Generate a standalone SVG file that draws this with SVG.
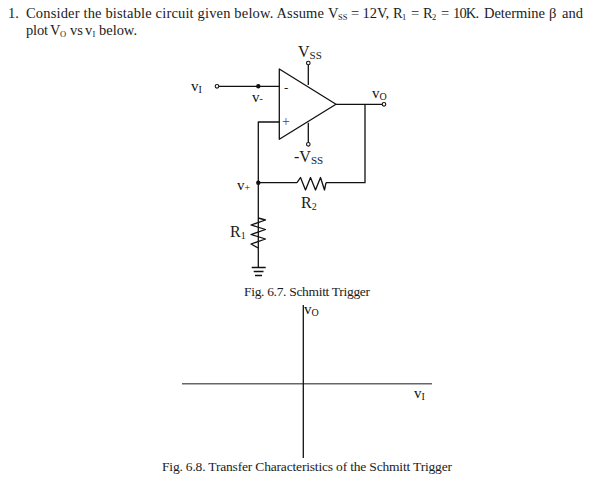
<svg xmlns="http://www.w3.org/2000/svg" width="602" height="480" viewBox="0 0 602 480">
<style>
text{font-family:"Liberation Serif",serif;fill:#1a1a1a}
.t{font-size:14.5px;fill:#1c1c1c}
.c{font-size:13.5px;fill:#1c1c1c}
.l{font-size:15px;fill:#111}
.s{font-size:10px}
.b{font-size:8.5px;fill:#1c1c1c}
.w{fill:none;stroke:#111;stroke-width:1.3;stroke-linejoin:round}
.o{fill:#fff;stroke:#111;stroke-width:1.1}
.d{fill:#111}
</style>
<rect width="602" height="480" fill="#fff"/>
<g id="question">
<text class="t" x="8" y="18">1.</text>
<text class="t" x="26" y="18" textLength="298">Consider the bistable circuit given below. Assume</text>
<text class="t" x="328" y="18">V</text><text class="b" x="338" y="20">SS</text>
<text class="t" x="351" y="18" textLength="38">= 12V,</text>
<text class="t" x="393" y="18">R</text><text class="b" x="402" y="20">1</text>
<text class="t" x="411" y="18">=</text>
<text class="t" x="423" y="18">R</text><text class="b" x="432" y="20">2</text>
<text class="t" x="441" y="18">=</text>
<text class="t" x="453" y="18" textLength="26">10K.</text>
<text class="t" x="484" y="18" textLength="61">Determine</text>
<text class="t" x="549" y="18">β</text>
<text class="t" x="562" y="18" textLength="21">and</text>
<text class="t" x="26" y="35" textLength="22">plot</text>
<text class="t" x="50" y="35">V</text><text class="b" x="60" y="37">O</text>
<text class="t" x="70" y="35">vs</text>
<text class="t" x="85" y="35">v</text><text class="b" x="92.500" y="37">I</text>
<text class="t" x="99" y="35" textLength="38">below.</text>
</g>
<g id="connectors">
<path class="w" d="M219 86.3H279.3"/>
<path class="w" d="M279.3 122H258.3V267"/>
<path class="w" d="M336 104.3H382"/>
<path class="w" d="M365 104.3V182.7H326"/>
<path class="w" d="M258.3 182.7H297"/>
<path class="w" d="M308.3 65V85"/>
<path class="w" d="M308.3 122.7V142"/>
</g>
<g id="opamp">
<path class="w" d="M279.3 69V139.3L336 104.3Z" fill="#fff"/>
<text x="284" y="92" font-size="13">-</text>
<text x="282" y="126" font-size="14" style="fill:#7a3a20">+</text>
</g>
<g id="terminal-vi"><circle class="o" cx="217" cy="86.3" r="1.8"/><text class="l" x="191" y="91">v<tspan class="s" dy="2">I</tspan></text></g>
<g id="node-vminus"><circle class="d" cx="258.3" cy="86.3" r="2.2"/><text class="l" x="252" y="102">v<tspan class="s" dy="0">-</tspan></text></g>
<g id="terminal-vss"><circle class="o" cx="308.3" cy="63" r="1.8"/><text x="298" y="57" font-size="16">V<tspan font-size="11" dy="2">SS</tspan></text></g>
<g id="terminal-nvss"><circle class="o" cx="308.3" cy="144.3" r="1.8"/><text x="294" y="162" font-size="16">-V<tspan dy="2" font-size="11">SS</tspan></text></g>
<g id="terminal-vo"><circle class="o" cx="384" cy="104.3" r="1.8"/><text class="l" x="372" y="98">v<tspan class="s" dy="2">O</tspan></text></g>
<g id="node-vplus"><circle class="d" cx="258.3" cy="182.7" r="2.2"/><text class="l" x="237" y="190">v<tspan class="s" dy="1">+</tspan></text></g>
<g id="R2"><path class="w" d="M297 182.7L300.5 177.5L305.5 190L310.5 177.5L315.5 190L320.5 177.5L324.5 190L326 182.7"/><text x="301" y="208" font-size="16">R<tspan class="s" dy="2">2</tspan></text></g>
<g id="R1"><path class="w" d="M258.3 218L265.5 220L251 225L265.5 229.500L251 234.500L265.5 239L251 244L258.3 248"/><text x="230" y="237" font-size="16">R<tspan class="s" dy="2">1</tspan></text></g>
<g id="ground"><path class="w" d="M251.7 267.5H265.7M253.7 271.5H263.5M255 275.5H262"/></g>
<g id="caption-67"><text class="c" x="244" y="296" textLength="126">Fig. 6.7. Schmitt Trigger</text></g>
<g id="axes">
<path fill="none" stroke="#666" stroke-width="1.6" d="M182 383.7H432"/>
<path fill="none" stroke="#111" stroke-width="1.3" d="M303.3 305V458"/>
<text class="l" x="304" y="314">v<tspan class="s" dy="2">O</tspan></text>
<text class="l" x="414" y="398">v<tspan class="s" dy="2">I</tspan></text>
</g>
<g id="caption-68"><text class="c" x="162" y="471" textLength="290">Fig. 6.8. Transfer Characteristics of the Schmitt Trigger</text></g>
</svg>
